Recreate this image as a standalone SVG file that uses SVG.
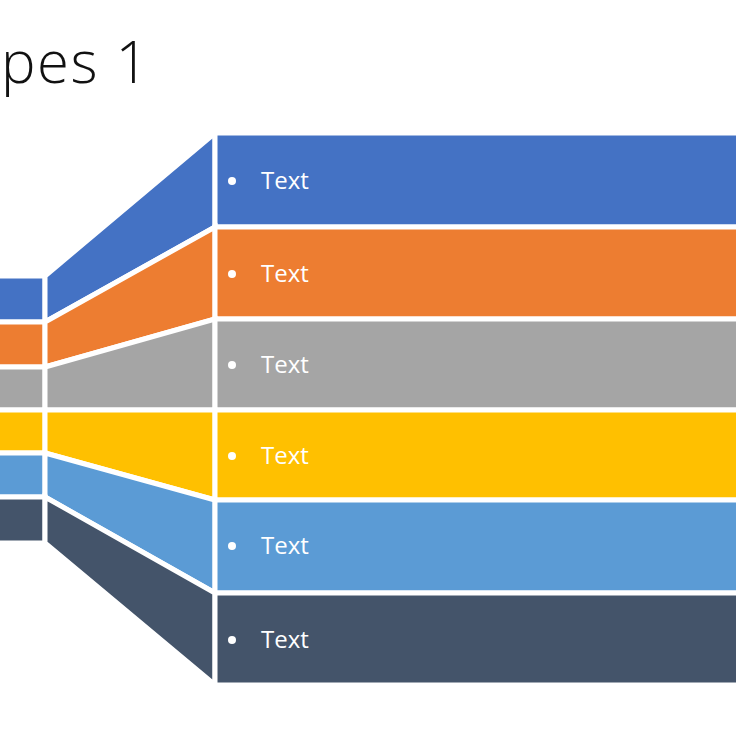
<svg xmlns="http://www.w3.org/2000/svg" width="736" height="736" viewBox="0 0 736 736">
<style>
.s{stroke:#fff;stroke-width:5;stroke-linejoin:miter}
.t{font-family:"Open Sans","Noto Sans",sans-serif;font-size:24px;fill:#fff}
.b{fill:#fff}
</style>
<rect width="736" height="736" fill="#fff"/>
<text x="1" y="83" font-family="'Open Sans','Noto Sans',sans-serif" font-size="58" font-weight="300" letter-spacing="1.5" fill="#111">pes 1</text>
<g id="band1" fill="#4472C4">
<rect class="s" x="-5" y="276" width="50" height="46"/>
<polygon class="s" points="45,276 215,133 215,227 45,322"/>
<rect class="s" x="215" y="133" width="530" height="94"/>
<circle class="b" cx="232" cy="181" r="4"/><text class="t" x="261" y="189">Text</text>
</g>
<g id="band2" fill="#ED7D31">
<rect class="s" x="-5" y="322" width="50" height="45"/>
<polygon class="s" points="45,322 215,227 215,319 45,367"/>
<rect class="s" x="215" y="227" width="530" height="92"/>
<circle class="b" cx="232" cy="274" r="4"/><text class="t" x="261" y="282">Text</text>
</g>
<g id="band3" fill="#A5A5A5">
<rect class="s" x="-5" y="367" width="50" height="43"/>
<polygon class="s" points="45,367 215,319 215,410 45,410"/>
<rect class="s" x="215" y="319" width="530" height="91"/>
<circle class="b" cx="232" cy="365" r="4"/><text class="t" x="261" y="373">Text</text>
</g>
<g id="band4" fill="#FFC000">
<rect class="s" x="-5" y="410" width="50" height="43"/>
<polygon class="s" points="45,410 215,410 215,500 45,453"/>
<rect class="s" x="215" y="410" width="530" height="90"/>
<circle class="b" cx="232" cy="456" r="4"/><text class="t" x="261" y="464">Text</text>
</g>
<g id="band5" fill="#5B9BD5">
<rect class="s" x="-5" y="453" width="50" height="44"/>
<polygon class="s" points="45,453 215,500 215,593 45,497"/>
<rect class="s" x="215" y="500" width="530" height="93"/>
<circle class="b" cx="232" cy="546" r="4"/><text class="t" x="261" y="554">Text</text>
</g>
<g id="band6" fill="#44546A">
<rect class="s" x="-5" y="497" width="50" height="46"/>
<polygon class="s" points="45,497 215,593 215,685 45,543"/>
<rect class="s" x="215" y="593" width="530" height="92"/>
<circle class="b" cx="232" cy="640" r="4"/><text class="t" x="261" y="648">Text</text>
</g>
<g id="connectors"/>
</svg>
